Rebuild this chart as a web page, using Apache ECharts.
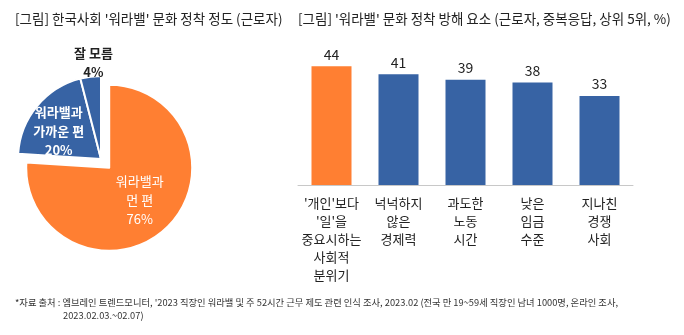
<!DOCTYPE html>
<html><head><meta charset="utf-8">
<script src="https://cdn.jsdelivr.net/npm/echarts@6/dist/echarts.min.js"></script>
<style>html,body{margin:0;padding:0;background:#fff}#c{width:684px;height:335px}</style>
</head><body><div id="c"></div>
<script>
const pieNames = ['워라밸과\n먼 편', '워라밸과\n가까운 편', '잘 모름'];
const pieValues = [76, 20, 4];
const barCategories = ["'개인'보다\n'일'을\n중요시하는\n사회적\n분위기", '넉넉하지\n않은\n경제력', '과도한\n노동\n시간', '낮은\n임금\n수준', '지나친\n경쟁\n사회'];
const barValues = [44, 41, 39, 38, 33];
const leftTitle = "[그림] 한국사회 '워라밸' 문화 정착 정도 (근로자)";
const rightTitle = "[그림] '워라밸' 문화 정착 방해 요소 (근로자, 중복응답, 상위 5위, %)";
const footLine1 = "*자료 출처 : 엠브레인 트렌드모니터, '2023 직장인 워라밸 및 주 52시간 근무 제도 관련 인식 조사, 2023.02 (전국 만 19~59세 직장인 남녀 1000명, 온라인 조사,";
const footLine2 = "2023.02.03.~02.07)";

const FONT = '"Noto Sans CJK KR", "Noto Sans", sans-serif';
const ORANGE = '#FF7F32';
const BLUE = '#3763A4';

const chart = echarts.init(document.getElementById('c'), null, {renderer: 'canvas'});
const pieData = pieValues.map((v, i) => {
  const item = {name: pieNames[i], value: v};
  if (i === 0) {
    item.selected = true;
    item.itemStyle = {color: ORANGE};
    item.label = {fontWeight: 'normal'};
  } else if (i === 1) {
    item.itemStyle = {color: BLUE};
    item.label = {offset: [-8, 0]};
  } else {
    item.itemStyle = {color: BLUE};
    item.label = {color: '#222', offset: [-2, -52]};
  }
  return item;
});

chart.setOption({
  animation: false,
  textStyle: {fontFamily: FONT},
  graphic: [
    {type: 'text', left: 15, top: 12, style: {text: leftTitle, font: '13.5px ' + FONT, fill: '#222'}},
    {type: 'text', left: 298, top: 12, style: {text: rightTitle, font: '13.5px ' + FONT, fill: '#222'}},
    {type: 'text', left: 15, top: 298, style: {text: footLine1, font: '9.3px ' + FONT, fill: '#333'}},
    {type: 'text', left: 63, top: 311, style: {text: footLine2, font: '9.3px ' + FONT, fill: '#333'}}
  ],
  grid: {left: 298, right: 51, top: 50, bottom: 150},
  xAxis: {
    type: 'category', data: barCategories,
    axisLine: {lineStyle: {color: '#c8c8c8', width: 1}},
    axisTick: {show: false},
    axisLabel: {color: '#222', fontSize: 13, lineHeight: 18, margin: 9, interval: 0, fontFamily: FONT}
  },
  yAxis: {type: 'value', min: 0, max: 50, show: false, splitLine: {show: false}},
  series: [
    {
      type: 'pie',
      center: [101, 159],
      radius: 83,
      startAngle: 90,
      clockwise: true,
      selectedMode: 'multiple',
      selectedOffset: 12,
      emphasis: {disabled: true},
      itemStyle: {borderColor: '#fff', borderWidth: 2},
      label: {show: true, position: 'inside', formatter: '{b}\n{c}%', color: '#fff', fontSize: 13, lineHeight: 19, fontWeight: 'bold', fontFamily: FONT},
      labelLine: {show: false},
      data: pieData
    },
    {
      type: 'bar',
      data: barValues.map((v, i) => ({value: v, itemStyle: {color: i === 0 ? ORANGE : BLUE}})),
      barWidth: 40,
      label: {show: true, position: 'top', distance: 5, color: '#222', fontSize: 14, fontFamily: FONT},
      emphasis: {disabled: true}
    }
  ]
});
</script></body></html>
